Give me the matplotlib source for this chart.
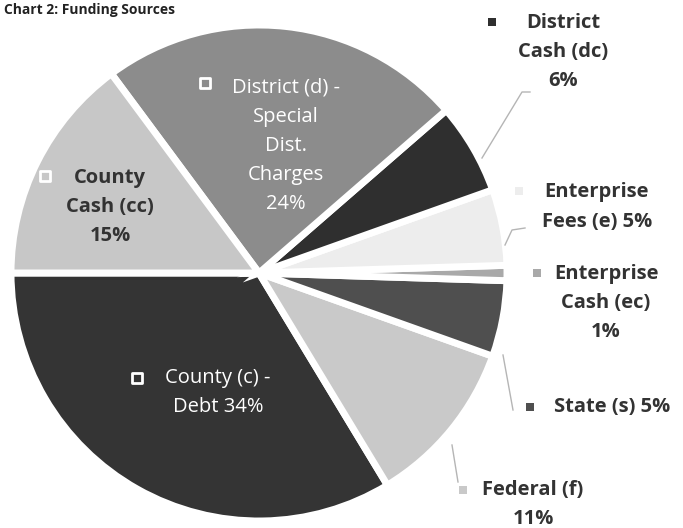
import numpy as np
import matplotlib
matplotlib.use('Agg')
import matplotlib.pyplot as plt

# === DATA ===
names = ['County (c) -\nDebt', 'Federal (f)\n', 'State (s)', 'Enterprise\nCash (ec)\n',
         'Enterprise\nFees (e)', 'District\nCash (dc)\n', 'District (d) -\nSpecial\nDist.\nCharges\n',
         'County\nCash (cc)\n']
shares = [34, 11, 5, 1, 5, 6, 24, 15]
colors = ['#343434', '#c9c9c9', '#4f4f4f', '#a9a9a9', '#ededed', '#2f2f2f', '#8c8c8c', '#c7c7c7']

W, H = 683, 528
CX, CY, R = 259, 273, 248

plt.rcParams['font.family'] = ['Open Sans', 'DejaVu Sans']

fig = plt.figure(figsize=(W / 100, H / 100), dpi=100)
ax = fig.add_axes([0, 0, 1, 1])
ax.set_xlim(0, W)
ax.set_ylim(0, H)
ax.set_aspect('equal')
ax.axis('off')


def py(y):
    # pixel row (from top) -> data y
    return H - y


wedges, _ = ax.pie(shares, colors=colors, startangle=180, counterclock=True,
                   center=(CX, py(CY)), radius=R,
                   wedgeprops=dict(edgecolor='white', linewidth=5))
ax.set_xlim(0, W)
ax.set_ylim(0, H)

# label text: (x, y) pixel centre of the text block, square x/y, text colour, weight
label_pos = [
    (218, 393, 137, 378, 'white', 'normal'),   # County Debt
    (533, 504, 463, 490, '#333333', 'bold'),   # Federal
    (612, 407, 530, 407, '#333333', 'bold'),   # State
    (606, 303, 537, 273, '#333333', 'bold'),   # Enterprise Cash
    (597, 207, 519, 191, '#333333', 'bold'),   # Enterprise Fees
    (563, 52, 492, 22, '#333333', 'bold'),     # District Cash
    (286, 146, 205, 83, 'white', 'normal'),    # District
    (110, 207, 45, 176, '#333333', 'bold'),    # County Cash
]

for i, (name, val) in enumerate(zip(names, shares)):
    tx, ty, sx, sy, tc, fw = label_pos[i]
    if name.endswith('\n'):
        txt = name + f'{val}%'
    else:
        txt = name + f' {val}%'
    ax.text(tx, py(ty), txt, ha='center', va='center', color=tc, fontsize=14.5,
            fontweight=fw, linespacing=1.6)
    # legend-key square
    inner = i in (0, 6, 7)
    ax.scatter([sx], [py(sy)], marker='s', s=62 if inner else 40, color=colors[i],
               edgecolors='white' if inner else 'none', linewidths=2, zorder=5)

# leader lines for the outside labels
leaders = {
    5: [(482, 158), (522, 92), (530, 92)],
    4: [(505, 245), (512, 230), (525, 228)],
    2: [(503, 355), (513, 410)],
    1: [(452, 445), (458, 482)],
}
for i, pts in leaders.items():
    xs = [p[0] for p in pts]
    ys = [py(p[1]) for p in pts]
    ax.plot(xs, ys, color='#b5b5b5', linewidth=1)

fig.text(4 / W, 1 - 3 / H, 'Chart 2: Funding Sources', ha='left', va='top',
         fontsize=10, fontweight='bold', color='#222222')

fig.savefig('out.png', dpi=100)
